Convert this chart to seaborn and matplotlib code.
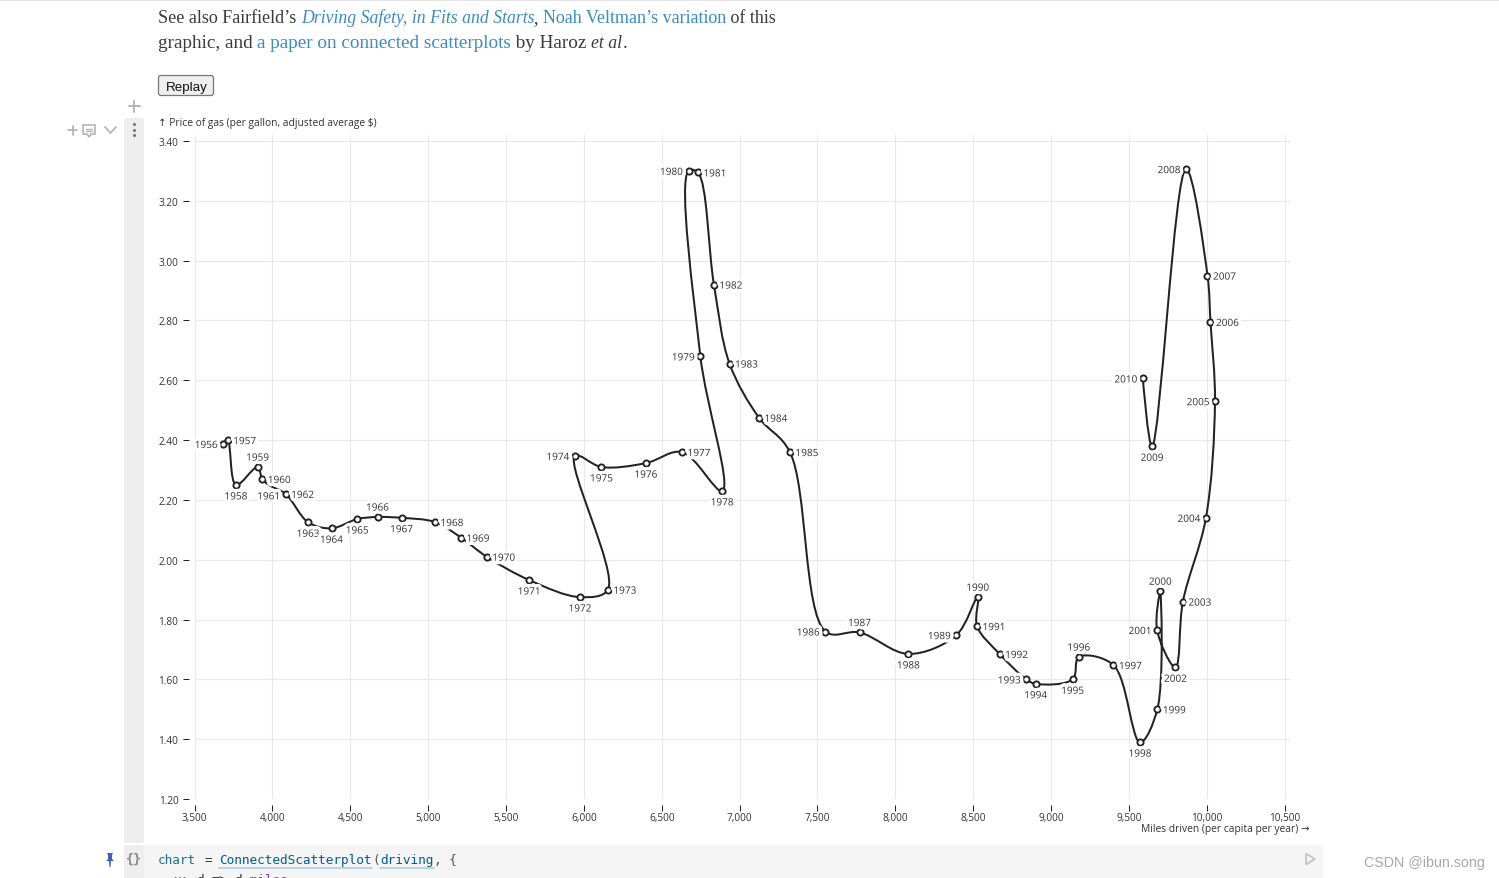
import numpy as np
import pandas as pd
import matplotlib
matplotlib.use("Agg")
import matplotlib.pyplot as plt
import matplotlib.patheffects as pe
from matplotlib.path import Path
from matplotlib.patches import PathPatch, FancyBboxPatch, Rectangle, Polygon
import seaborn as sns

# values
years = list(range(1956, 2011))
miles = [3685, 3713, 3766, 3905, 3935, 3977, 4085, 4230, 4380, 4545, 4676, 4830, 5044, 5211,
         5376, 5649, 5975, 6154, 5943, 6113, 6399, 6630, 6888, 6748, 6672, 6732, 6835, 6935,
         7124, 7323, 7551, 7770, 8084, 8392, 8529, 8524, 8669, 8841, 8901, 9138, 9178, 9400,
         9571, 9682, 9701, 9680, 9798, 9846, 9994, 10052, 10023, 10004, 9866, 9648, 9589]
gas = [2.387, 2.40, 2.25, 2.31, 2.27, 2.25, 2.22, 2.125, 2.105, 2.136, 2.143, 2.14, 2.126, 2.074,
       2.01, 1.932, 1.875, 1.90, 2.347, 2.31, 2.323, 2.36, 2.23, 2.68, 3.30, 3.295, 2.92, 2.656,
       2.475, 2.36, 1.76, 1.757, 1.685, 1.748, 1.875, 1.778, 1.685, 1.60, 1.585, 1.60, 1.675, 1.648,
       1.39, 1.50, 1.895, 1.765, 1.64, 1.86, 2.14, 2.53, 2.795, 2.95, 3.306, 2.379, 2.606]
sides = ["left", "right", "bottom", "top", "right", "bottom", "right", "bottom", "bottom", "bottom",
         "top", "bottom", "right", "right", "right", "bottom", "bottom", "right", "left", "bottom",
         "bottom", "right", "bottom", "left", "left", "right", "right", "right", "right", "right",
         "left", "top", "bottom", "left", "top", "right", "right", "left", "bottom", "bottom",
         "top", "right", "bottom", "right", "top", "left", "bottom", "right", "left", "left",
         "right", "right", "left", "bottom", "left"]
x_ticks = [3500, 4000, 4500, 5000, 5500, 6000, 6500, 7000, 7500, 8000, 8500, 9000, 9500, 10000, 10500]
y_ticks = [1.2, 1.4, 1.6, 1.8, 2.0, 2.2, 2.4, 2.6, 2.8, 3.0, 3.2, 3.4]
hidden_dots = [1961]  # this dot is not visible in the screenshot

df = pd.DataFrame({"year": years, "miles": miles, "gas": gas, "side": sides})

W, H = 1499, 879
LABEL_FONT = ["Open Sans", "DejaVu Sans"]
INK = "#222222"

sns.set_style("white")
plt.rcParams["font.family"] = LABEL_FONT
fig = plt.figure(figsize=(W / 100, H / 100), dpi=100)

# full page layer, in pixels, for the notebook bits round the chart
page = fig.add_axes([0, 0, 1, 1], zorder=0)
page.set_xlim(0, W)
page.set_ylim(H, 0)
page.axis("off")

page.add_patch(Rectangle((0, 0), W, 1.5, color="#e4e4e4", lw=0))
page.add_patch(FancyBboxPatch((124, 119), 20, 725, boxstyle="round,pad=0,rounding_size=3", fc="#eeeeee", ec="none"))
page.add_patch(FancyBboxPatch((124, 846), 1199, 50, boxstyle="round,pad=0,rounding_size=4", fc="#f5f5f5", ec="none"))
page.add_patch(Rectangle((124, 846), 20, 33, color="#eeeeee", lw=0))
page.add_patch(FancyBboxPatch((158.5, 76.5), 55, 20, boxstyle="round,pad=0,rounding_size=2.5", fc="#efefef", ec="#767676", lw=0.9))
page.text(186.5, 87, "Replay", ha="center", va="center_baseline", fontsize=9.6, family="Liberation Sans", color="#111111")


def runs(x, y, size, parts):
    # writes coloured pieces of a line one after the other
    r = fig.canvas.get_renderer()
    for s, color, style in parts:
        fs = 12.75 if style == "italic" else size
        t = page.text(x, y, s, color=color, style=style, fontsize=fs, family="Liberation Serif", va="baseline")
        x += t.get_window_extent(r).width


TXT, LINK = "#3a3a3a", "#3b8bc4"
runs(158, 23, 12.95, [("See also Fairfield’s ", TXT, "normal"), ("Driving Safety, in Fits and Starts", LINK, "italic"),
                      (", ", TXT, "normal"), ("Noah Veltman’s variation", LINK, "normal"), (" of this", TXT, "normal")])
runs(158, 48, 13.75, [("graphic, and ", TXT, "normal"), ("a paper on connected scatterplots", LINK, "normal"),
                      (" by Haroz ", TXT, "normal"), ("et al", TXT, "italic"), (".", TXT, "normal")])

# cell gutter icons
GREY = "#b5b5b5"
page.plot([129, 140], [107, 107], color=GREY, lw=1.4)
page.plot([134.5, 134.5], [101.5, 112.5], color=GREY, lw=1.4)
page.plot([68.5, 77.5], [131, 131], color=GREY, lw=1.3)
page.plot([73, 73], [126.5, 135.5], color=GREY, lw=1.3)
page.add_patch(Polygon([(83, 126), (95, 126), (95, 135), (91, 135), (89, 138), (87, 135), (83, 135)], fc="none", ec=GREY, lw=1.2))
page.plot([86, 92], [129.5, 129.5], color=GREY, lw=1)
page.plot([86, 92], [132, 132], color=GREY, lw=1)
page.plot([105, 110.5, 116], [128, 134, 128], color=GREY, lw=1.3)
page.scatter([134, 134, 134], [125, 130.5, 136], s=5, color="#777777", lw=0)

# code cell under the chart
MONO = dict(family="DejaVu Sans Mono", fontsize=9.2, va="baseline")
CW = 7.67
code = [("chart", "#1f6f8b", 0), ("=", "#333333", 6), ("ConnectedScatterplot", "#005f87", 8), ("(", "#555555", 28),
        ("driving", "#005f87", 29), (", {", "#555555", 36)]
for s, c, col in code:
    page.text(158 + col * CW, 864, s, color=c, **MONO)
page.plot([219, 372], [869, 869], color="#b7cfdc", lw=1.3)
page.plot([380, 434], [869, 869], color="#b7cfdc", lw=1.3)
for s, c, col in [("x:", "#005f87", 2), ("d", "#333333", 5), ("=>", "#333333", 7), ("d", "#333333", 10), (".miles,", "#7a3fb0", 11)]:
    page.text(158 + col * CW, 884, s, color=c, **MONO)
page.add_patch(Polygon([(1306, 854.5), (1306, 865.5), (1315, 860)], fc="none", ec="#c4c4c4", lw=1.3))
page.text(134, 859.5, "{}", ha="center", va="center", family="DejaVu Sans Mono", fontsize=9.5, color="#8a8a8a", weight="bold")
page.add_patch(Polygon([(107, 854), (113, 854), (112, 856), (112, 860), (114, 862), (111, 862), (110.5, 868),
                        (109.5, 868), (109, 862), (106, 862), (108, 860), (108, 856)], fc="#3f5fc0", ec="none"))
page.text(1364, 867, "CSDN @ibun.song", color="#a8a8a8", family="Liberation Sans", fontsize=10.3)

# chart
x0, x1, y_bot, y_top = 194.5, 1290, 800, 136
ax = fig.add_axes([x0 / W, 1 - y_bot / H, (x1 - x0) / W, (y_bot - y_top) / H], zorder=1)
ax.patch.set_alpha(0)
ax.set_xlim(3500, 3500 + (x1 - x0) / 0.15575)
ax.set_ylim(1.2, 3.4 + (142 - y_top) / 299.1)

ax.set_xticks(x_ticks)
ax.set_yticks(y_ticks)
ax.set_xticklabels([f"{v:,}" for v in x_ticks])
ax.set_yticklabels([f"{v:.2f}" for v in y_ticks])
ax.grid(True, color="#e9e9e9", lw=0.8)
ax.set_axisbelow(True)
for name, sp in ax.spines.items():
    sp.set_visible(False)
ax.spines["left"].set_position(("outward", 4.3))
ax.spines["bottom"].set_position(("outward", 4.3))
ax.tick_params(left=True, bottom=True, length=4.3, width=0.75, color="#222222", labelsize=7.2, labelcolor="#333333")
ax.tick_params(axis="x", pad=1)
ax.tick_params(axis="y", pad=3)


def catmull_rom(px):
    # same curve as d3.curveCatmullRom (alpha 0.5), worked out in pixels, gives bezier control points
    verts, codes = [px[0]], [Path.MOVETO]
    pts = np.vstack([px[0], px, px[-1]])
    for i in range(len(pts) - 3):
        p0, p1, p2, p3 = pts[i:i + 4]
        l01 = np.hypot(*(p1 - p0)) ** 0.5
        l12 = np.hypot(*(p2 - p1)) ** 0.5
        l23 = np.hypot(*(p3 - p2)) ** 0.5
        c1, c2 = p1.copy(), p2.copy()
        if l01 > 1e-9:
            a = 2 * l01 ** 2 + 3 * l01 * l12 + l12 ** 2
            c1 = (p1 * a - p0 * l12 ** 2 + p2 * l01 ** 2) / (3 * l01 * (l01 + l12))
        if l23 > 1e-9:
            b = 2 * l23 ** 2 + 3 * l23 * l12 + l12 ** 2
            c2 = (p2 * b + p1 * l23 ** 2 - p3 * l12 ** 2) / (3 * l23 * (l23 + l12))
        verts += [c1, c2, p2]
        codes += [Path.CURVE4] * 3
    return verts, codes


to_px = ax.transData
verts, codes = catmull_rom(to_px.transform(df[["miles", "gas"]].to_numpy()))
verts = to_px.inverted().transform(np.array(verts))
ax.add_patch(PathPatch(Path(verts, codes), fc="none", ec=INK, lw=1.45, zorder=3, capstyle="round"))

sns.scatterplot(data=df[~df["year"].isin(hidden_dots)], x="miles", y="gas", ax=ax, s=20, color="white",
                edgecolor=INK, linewidth=1.35, legend=False, zorder=4, clip_on=False)
ax.set_xlabel("")
ax.set_ylabel("")

offsets = {"left": (-4, 0, "right", "center_baseline"), "right": (4, 0, "left", "center_baseline"),
           "top": (0, 7.5, "center", "center_baseline"), "bottom": (0, -7.5, "center", "center_baseline")}
for _, row in df.iterrows():
    dx, dy, ha, va = offsets[row["side"]]
    ax.annotate(str(row["year"]), (row["miles"], row["gas"]), xytext=(dx, dy), textcoords="offset points",
                ha=ha, va=va, fontsize=7.2, color="#333333", zorder=5,
                path_effects=[pe.withStroke(linewidth=5, foreground="white")])

page.text(158, 122, "↑ Price of gas (per gallon, adjusted average $)", va="center_baseline", fontsize=7.4, color="#333333")
page.text(1310, 828, "Miles driven (per capita per year) →", ha="right", va="center_baseline", fontsize=7.4, color="#333333")

fig.savefig("out.png", dpi=100)
